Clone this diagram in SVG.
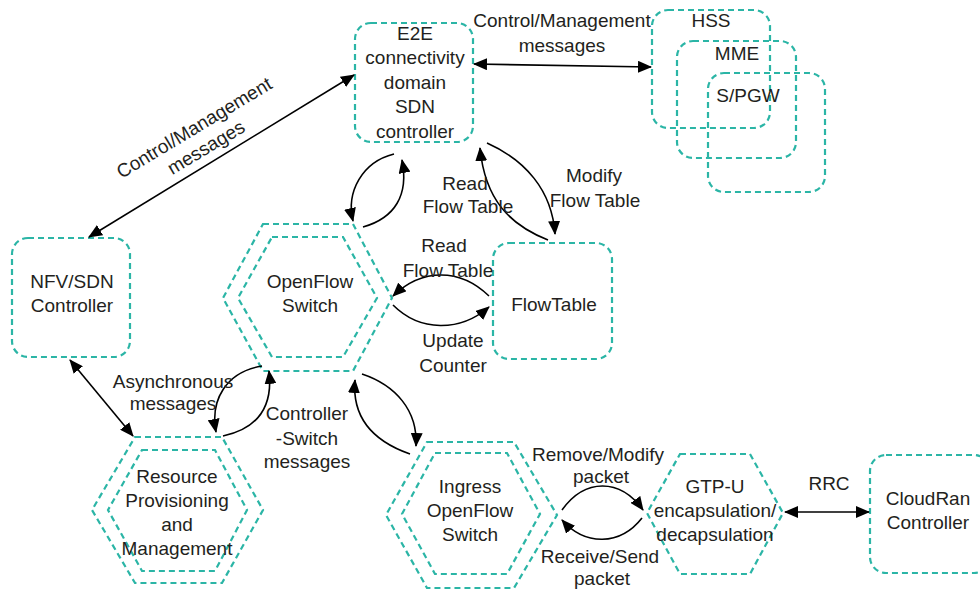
<svg xmlns="http://www.w3.org/2000/svg" width="980" height="589" viewBox="0 0 980 589">
<defs>
<marker id="ah" markerUnits="userSpaceOnUse" markerWidth="14" markerHeight="12" refX="13" refY="6" orient="auto-start-reverse">
<path d="M0,0 L14,6 L0,12 Z" fill="#000"/>
</marker>
<style>
.n{fill:none;stroke:#2bb5a6;stroke-width:2.2;stroke-dasharray:6 4}
.c{fill:none;stroke:#000;stroke-width:1.6}
text{font-family:"Liberation Sans",Arial,sans-serif;font-size:19px;fill:#231f20;text-anchor:middle}
</style>
</defs>
<rect width="980" height="589" fill="#fff"/>

<g id="e2e">
<rect class="n" x="355" y="23" width="118" height="119" rx="16"/>
<text x="415" y="40">E2E</text>
<text x="415" y="64">connectivity</text>
<text x="415" y="89">domain</text>
<text x="415" y="113">SDN</text>
<text x="415" y="138">controller</text>
</g>
<g id="hss">
<rect class="n" x="652" y="10" width="118" height="118" rx="16"/>
<text x="711" y="27">HSS</text>
</g>
<g id="mme">
<rect class="n" x="677" y="41" width="119" height="117" rx="16"/>
<text x="737" y="60">MME</text>
</g>
<g id="spgw">
<rect class="n" x="708" y="73" width="117" height="119" rx="16"/>
<text x="748" y="102">S/PGW</text>
</g>
<g id="nfv">
<rect class="n" x="12" y="238" width="118" height="119" rx="16"/>
<text x="72" y="288">NFV/SDN</text>
<text x="72" y="312">Controller</text>
</g>
<g id="flowtable">
<rect class="n" x="493" y="243" width="119" height="116" rx="16"/>
<text x="554" y="311">FlowTable</text>
</g>
<g id="openflow">
<polygon class="n" points="263,224 353,224 392,298 353,371 263,371 223,298"/>
<polygon class="n" points="272,237 343,237 377,298 343,357 272,357 238,298"/>
<text x="310" y="288">OpenFlow</text>
<text x="310" y="312">Switch</text>
</g>
<g id="resource">
<polygon class="n" points="135,437 222,437 263,510 222,583 135,583 92,510"/>
<polygon class="n" points="142,450 215,450 247,510 215,571 142,571 108,510"/>
<text x="177" y="483">Resource</text>
<text x="177" y="507">Provisioning</text>
<text x="177" y="531">and</text>
<text x="177" y="555">Management</text>
</g>
<g id="ingress">
<polygon class="n" points="427,442 514,442 557,515 514,588 427,588 386,515"/>
<polygon class="n" points="435,453 507,453 540,514 507,574 435,574 402,514"/>
<text x="470" y="493">Ingress</text>
<text x="470" y="517">OpenFlow</text>
<text x="470" y="541">Switch</text>
</g>
<g id="gtpu">
<polygon class="n" points="680,454 750,454 783,513 750,574 680,574 647,513"/>
<text x="715" y="493">GTP-U</text>
<text x="715" y="517">encapsulation/</text>
<text x="715" y="541">decapsulation</text>
</g>
<g id="cloudran">
<rect class="n" x="870" y="455" width="120" height="118" rx="16"/>
<text x="928" y="505">CloudRan</text>
<text x="928" y="529">Controller</text>
</g>

<g id="connectors">
<path class="c" d="M474,64 L651,67" marker-start="url(#ah)" marker-end="url(#ah)"/>
<path class="c" d="M354,75 L89,237" marker-start="url(#ah)" marker-end="url(#ah)"/>
<path class="c" d="M70,360 L133,436" marker-start="url(#ah)" marker-end="url(#ah)"/>
<path class="c" d="M785,512 L869,512" marker-start="url(#ah)" marker-end="url(#ah)"/>
<path class="c" d="M394,154 C362,162 346,192 353,221" marker-end="url(#ah)"/>
<path class="c" d="M363,227 C395,218 409,195 402,160" marker-end="url(#ah)"/>
<path class="c" d="M548,240 C510,225 485,200 480,148" marker-end="url(#ah)"/>
<path class="c" d="M487,143 C525,160 552,190 555,234" marker-end="url(#ah)"/>
<path class="c" d="M489,296 C460,268 422,268 393,296" marker-end="url(#ah)"/>
<path class="c" d="M393,305 C420,332 460,332 489,307" marker-end="url(#ah)"/>
<path class="c" d="M262,366 C226,372 210,400 216,432" marker-end="url(#ah)"/>
<path class="c" d="M223,436 C260,428 273,405 269,371" marker-end="url(#ah)"/>
<path class="c" d="M362,374 C395,385 418,410 416,446" marker-end="url(#ah)"/>
<path class="c" d="M410,454 C370,440 352,415 355,380" marker-end="url(#ah)"/>
<path class="c" d="M562,510 C585,478 620,478 643,510" marker-end="url(#ah)"/>
<path class="c" d="M642,518 C620,546 585,546 562,520" marker-end="url(#ah)"/>
</g>

<g id="labels">
<text x="562" y="27">Control/Management</text>
<text x="562" y="52">messages</text>
<g transform="translate(200,137.5) rotate(-31)">
<text x="0" y="-5">Control/Management</text>
<text x="0" y="18">messages</text>
</g>
<text x="465" y="190">Read</text>
<text x="468" y="213">Flow Table</text>
<text x="594" y="182">Modify</text>
<text x="595" y="207">Flow Table</text>
<text x="444" y="252">Read</text>
<text x="448" y="277">Flow Table</text>
<text x="453" y="347">Update</text>
<text x="453" y="372">Counter</text>
<text x="173" y="388">Asynchronous</text>
<text x="173" y="410">messages</text>
<text x="307" y="420">Controller</text>
<text x="307" y="445">-Switch</text>
<text x="307" y="468">messages</text>
<text x="598" y="461">Remove/Modify</text>
<text x="601" y="483">packet</text>
<text x="600" y="563">Receive/Send</text>
<text x="602" y="585">packet</text>
<text x="829" y="490">RRC</text>
</g>
</svg>
